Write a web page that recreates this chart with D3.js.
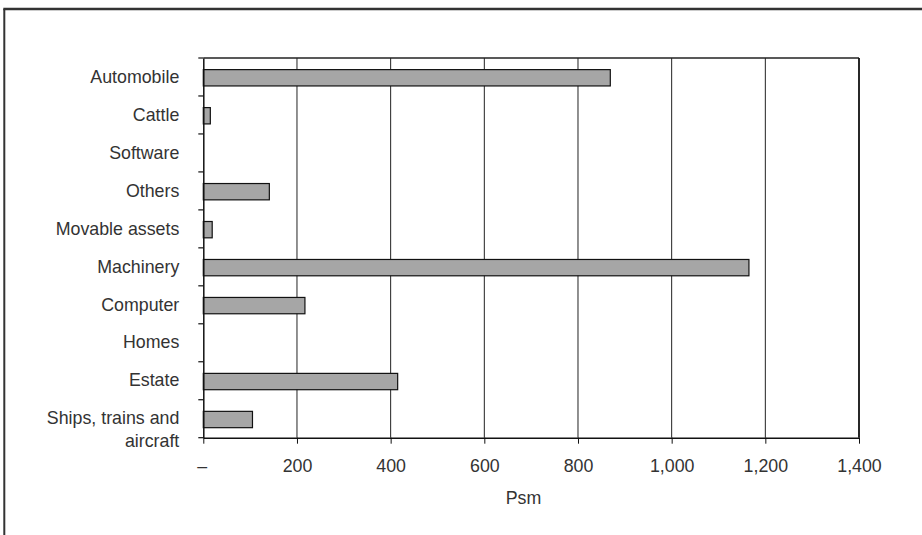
<!DOCTYPE html>
<html lang='en'>
<head>
  <meta charset='UTF-8'>
  <title>Psm by asset</title>
  <style>
    * {
      margin: 0;
      padding: 0;
    }
    body {
      background: #fff;
    }
    #chart {
      width: 922px;
      height: 535px;
    }
    text {
      font-family: 'Liberation Sans', Arial, sans-serif;
      fill: #333;
    }
  </style>
</head>
<body>
<script src='https://cdn.jsdelivr.net/npm/d3@7'></script>
<div id='chart'></div>
<script>
  const categories = ['Automobile', 'Cattle', 'Software', 'Others', 'Movable assets',
    'Machinery', 'Computer', 'Homes', 'Estate', 'Ships, trains and aircraft']
  const values = [869, 15, 0, 141, 19, 1165, 217, 0, 415, 105]
  const xTicks = [0, 200, 400, 600, 800, 1000, 1200, 1400]
  const xTitle = 'Psm'

  let W = 922
  let H = 535
  let margin = {top: 58, right: 63, bottom: 97, left: 203.3}
  let width = 859 - margin.left
  let height = 437.7 - margin.top
  let fontSize = '17.8px'

  let svg = d3.select('#chart')
  .append('svg')
  .attr('width', W)
  .attr('height', H)

  // 外框
  svg.append('rect').attr('width', W).attr('height', H).style('fill', '#fff')
  svg.append('line')
  .attr('x1', 4.3).attr('x2', 4.3).attr('y1', 9).attr('y2', H)
  .attr('stroke', '#333').attr('stroke-width', 2)
  svg.append('line')
  .attr('x1', 3.3).attr('x2', W).attr('y1', 9).attr('y2', 9)
  .attr('stroke', '#333').attr('stroke-width', 2.5)

  let chart = svg.append('g')
  .attr('transform', 'translate(' + margin.left + ',' + margin.top + ')')

  let x = d3.scaleLinear()
  .domain([0, 1400])
  .range([0, width])
  let y = d3.scaleBand()
  .domain(categories)
  .range([0, height])
  .padding(0)

  // grid
  chart.append('g')
  .selectAll('line')
  .data(xTicks.slice(1, -1))
  .join('line')
  .attr('x1', d => x(d)).attr('x2', d => x(d))
  .attr('y1', 0).attr('y2', height)
  .attr('stroke', '#222').attr('stroke-width', 1)

  // bars
  let barH = y.bandwidth() * 0.43
  chart.append('g')
  .selectAll('rect')
  .data(categories.map((c, i) => ({c, v: values[i]})).filter(d => d.v > 0))
  .join('rect')
  .attr('x', 0)
  .attr('y', d => y(d.c) + (y.bandwidth() - barH) / 2 + 0.8)
  .attr('width', d => x(d.v))
  .attr('height', barH)
  .attr('fill', '#a6a6a6')
  .attr('stroke', '#111')
  .attr('stroke-width', 1.2)

  // plot frame (top + right)
  chart.append('line')
  .attr('x1', 0).attr('x2', width).attr('y1', 0).attr('y2', 0)
  .attr('stroke', '#222').attr('stroke-width', 1.5)
  chart.append('line')
  .attr('x1', width).attr('x2', width).attr('y1', 0).attr('y2', height)
  .attr('stroke', '#111').attr('stroke-width', 1.8)

  // x
  let xAxis = chart.append('g')
  .attr('transform', 'translate(0,' + height + ')')
  .call(d3.axisBottom(x)
    .tickValues(xTicks)
    .tickSize(6)
    .tickSizeOuter(0)
    .tickPadding(16)
    .tickFormat(d => d === 0 ? '–' : d3.format(',')(d)))
  xAxis.select('.domain').attr('stroke', '#111').attr('stroke-width', 1.5)
  xAxis.selectAll('.tick line').attr('stroke', '#111')
  xAxis.selectAll('text').style('font-size', fontSize).attr('fill', '#333')
  xAxis.selectAll('.tick').filter(d => d === 0).select('text').attr('dx', -1.5)

  chart.append('text')
  .attr('x', 320.2)
  .attr('y', height + 60)
  .attr('dy', '0.35em')
  .attr('text-anchor', 'middle')
  .style('font-size', fontSize)
  .text(xTitle)

  // y
  let yAxis = chart.append('g')
  .call(d3.axisLeft(y).tickSize(0).tickPadding(24))
  yAxis.select('.domain').attr('stroke', '#111').attr('stroke-width', 1.5)
  yAxis.selectAll('text')
  .style('font-size', fontSize)
  .attr('fill', '#333')
  .each(function (d) {
    let t = d3.select(this)
    let words = d.split(' ')
    t.text(null)
    let lines = [[]]
    let ts = t.append('tspan').attr('x', -24)
    words.forEach(w => {
      let cur = lines[lines.length - 1]
      cur.push(w)
      ts.text(cur.join(' '))
      if (ts.node().getComputedTextLength() > 160 && cur.length > 1) {
        cur.pop()
        ts.text(cur.join(' '))
        lines.push([w])
        ts = t.append('tspan').attr('x', -24).attr('dy', '1.28em').text(w)
      }
    })
  })

  // category boundary ticks
  chart.append('g')
  .selectAll('line')
  .data(categories.map(c => y(c)).concat([height]))
  .join('line')
  .attr('x1', -5).attr('x2', 0)
  .attr('y1', d => d).attr('y2', d => d)
  .attr('stroke', '#111').attr('stroke-width', 1.2)
</script>
</body>
</html>
